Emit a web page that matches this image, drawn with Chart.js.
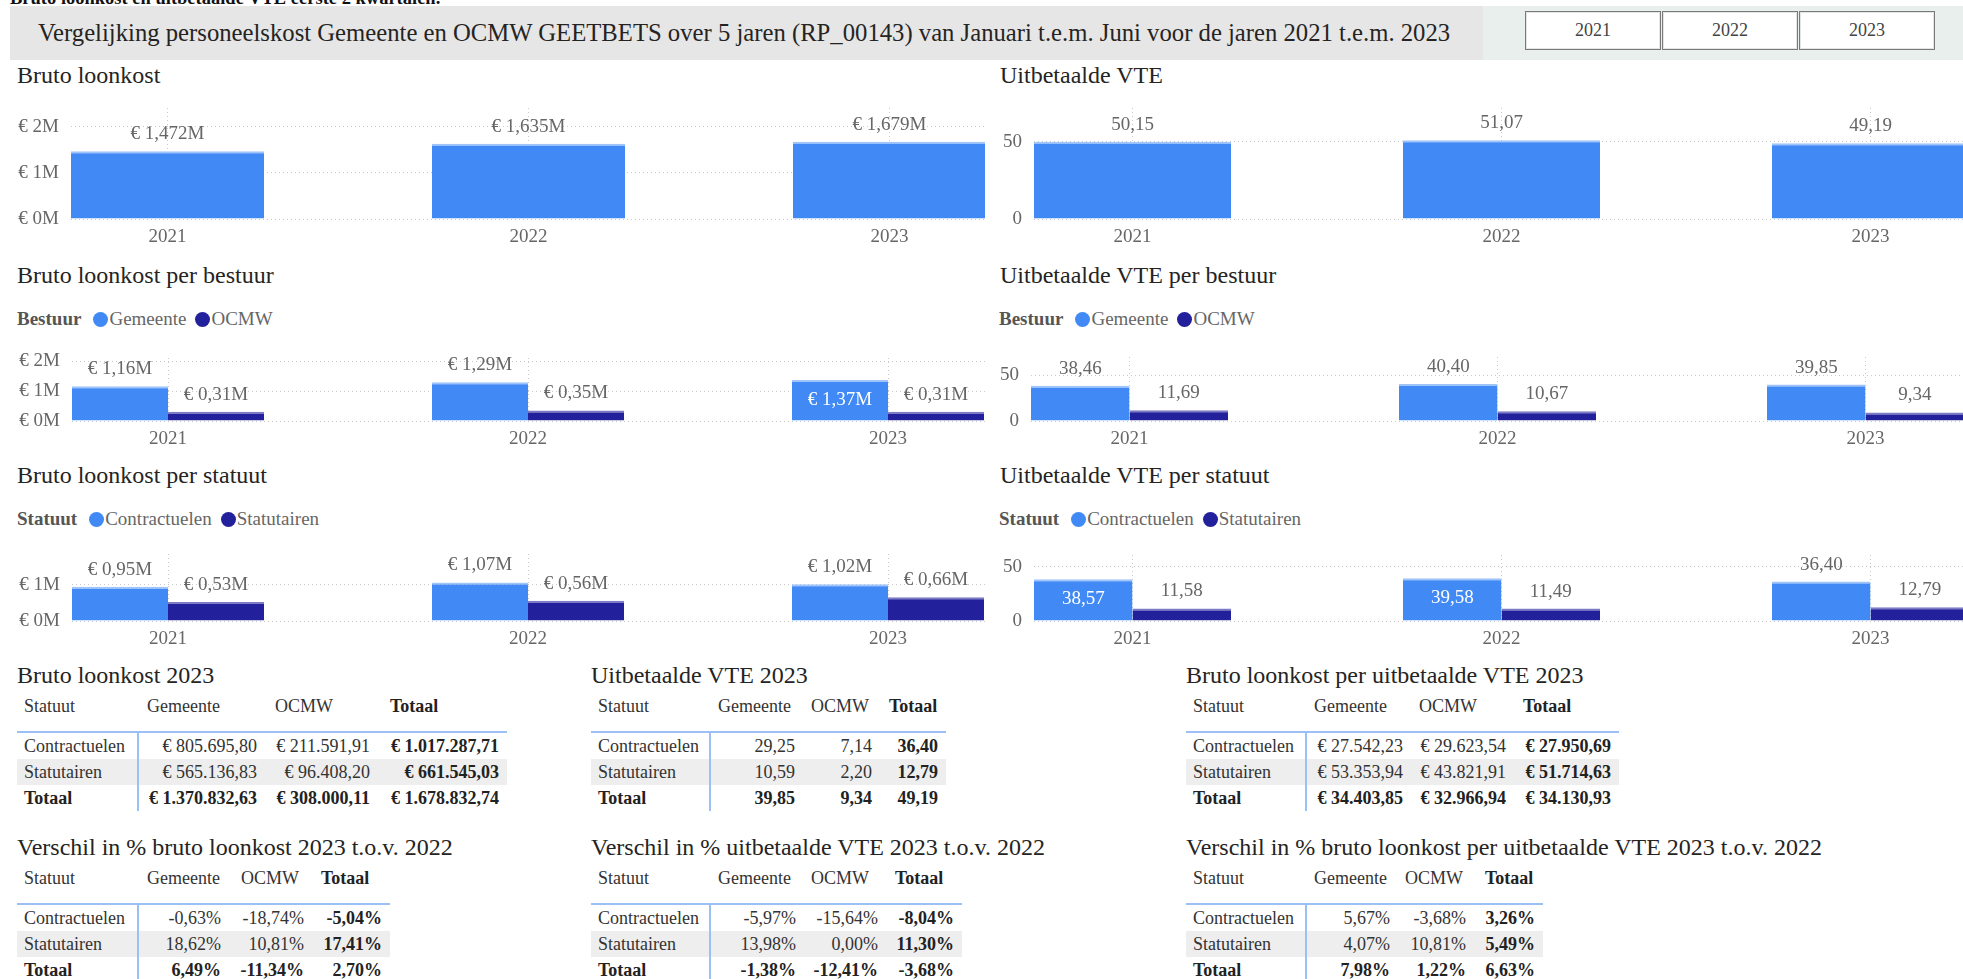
<!DOCTYPE html>
<html>
<head>
<meta charset="utf-8">
<script src="https://cdn.jsdelivr.net/npm/chart.js@4.4.0/dist/chart.umd.min.js"></script>
<style>
  body { margin: 0; width: 1963px; height: 979px; overflow: hidden; background: #fff; position: relative;
         font-family: 'Liberation Serif', 'Times New Roman', serif; color: #333; }
  .abs { position: absolute; font-family: 'Liberation Serif', 'Times New Roman', serif; }
  .page-title { left: 10px; top: -11px; font-size: 18.5px; line-height: 18.5px; font-weight: bold; color: #111; white-space: nowrap; }
  .header { left: 10px; top: 6px; width: 1473px; height: 54px; background: #e6e6e6; display: flex; align-items: center; }
  .header span { margin-left: 28px; font-size: 24.7px; color: #252423; white-space: nowrap; }
  .slicer { left: 1483px; top: 6px; width: 480px; height: 54px; background: #e9efed; }
  .slicer div { position: absolute; top: 5px; height: 37px; width: 134px; background: #fff; border: 1px solid #7a7a7a;
                box-shadow: inset 0 0 0 1px #e4e4e4; font-size: 18px; color: #444; display: flex; align-items: center; justify-content: center; }
  .vtitle { font-size: 24px; color: #252423; white-space: nowrap; }
  .legend { font-size: 19px; color: #666; display: flex; align-items: center; white-space: nowrap; }
  .legend b { color: #555; margin-right: 12px; font-family: inherit; }
  .legend span { font-family: inherit; }
  .legend i { display: inline-block; width: 15px; height: 15px; border-radius: 50%; margin-right: 1px; }
  .legend i + span { margin-right: 9px; }
  .chart { position: absolute; overflow: hidden; }
  table { position: absolute; border-collapse: collapse; table-layout: fixed; font-size: 18px; color: #333;
          font-family: 'Liberation Serif', 'Times New Roman', serif; }
  th { font-weight: normal; text-align: left; height: 49px; vertical-align: middle; white-space: nowrap; padding: 0;
       border-bottom: 2px solid #9cc0f6; }
  td { text-align: right; height: 26px; padding: 0; white-space: nowrap; }
  td:first-child, th:first-child { text-align: left; }
  tr.alt td { background: #eeeeee; }
  tr.tot td, th.tot, td.tot { font-weight: bold; color: #222; }
  td.first { border-right: 2px solid #9cc0f6; }
</style>
</head>
<body>
<div class="abs page-title">Bruto loonkost en uitbetaalde VTE eerste 2 kwartalen.</div>
<div class="abs header"><span>Vergelijking personeelskost Gemeente en OCMW GEETBETS over 5 jaren (RP_00143) van Januari t.e.m. Juni voor de jaren 2021 t.e.m. 2023</span></div>
<div class="abs slicer" id="slicer"></div>

<script>
// ---- gegevens ----
const years = ['2021', '2022', '2023'];

// bruto loonkost in miljoen euro, uitbetaalde VTE als aantal
const loonkost = [1.472, 1.635, 1.679];
const vte = [50.15, 51.07, 49.19];

const loonkostGemeente = [1.16, 1.29, 1.37];
const loonkostOcmw = [0.31, 0.35, 0.31];
const vteGemeente = [38.46, 40.40, 39.85];
const vteOcmw = [11.69, 10.67, 9.34];

const loonkostContract = [0.95, 1.07, 1.02];
const loonkostStatutair = [0.53, 0.56, 0.66];
const vteContract = [38.57, 39.58, 36.40];
const vteStatutair = [11.58, 11.49, 12.79];

// tabellen 2023 (rijen: Contractuelen, Statutairen, Totaal)
const statuten = ['Contractuelen', 'Statutairen', 'Totaal'];
const besturen = ['Gemeente', 'OCMW', 'Totaal'];
const loonkost2023 = [[805695.80, 211591.91, 1017287.71], [565136.83, 96408.20, 661545.03], [1370832.63, 308000.11, 1678832.74]];
const vte2023 = [[29.25, 7.14, 36.40], [10.59, 2.20, 12.79], [39.85, 9.34, 49.19]];
const loonkostPerVte2023 = [[27542.23, 29623.54, 27950.69], [53353.94, 43821.91, 51714.63], [34403.85, 32966.94, 34130.93]];
const verschilLoonkost = [[-0.63, -18.74, -5.04], [18.62, 10.81, 17.41], [6.49, -11.34, 2.70]];
const verschilVte = [[-5.97, -15.64, -8.04], [13.98, 0.00, 11.30], [-1.38, -12.41, -3.68]];
const verschilPerVte = [[5.67, -3.68, 3.26], [4.07, 10.81, 5.49], [7.98, 1.22, 6.63]];

const LIGHT = '#418af6';
const DARK = '#23209b';
// lichte rand bovenaan elke staaf
const EDGE = { [LIGHT]: '#9fc4fa', [DARK]: '#7d7ac6' };
const FONT = "'Liberation Serif', 'Times New Roman', serif";

// ---- opmaak ----
function nl(v, dec) {
  let [int, frac] = Math.abs(v).toFixed(dec).split('.');
  int = int.replace(/\B(?=(\d{3})+(?!\d))/g, '.');
  return (v < 0 ? '-' : '') + int + (frac ? ',' + frac : '');
}
const euro = v => '€ ' + nl(v, 2);
const pct = v => nl(v, 2) + '%';
const mio = dec => v => '€ ' + nl(v, dec) + 'M';

// ---- slicer knoppen ----
const slicer = document.getElementById('slicer');
years.forEach((y, i) => {
  const b = document.createElement('div');
  b.style.left = (42 + i * 137) + 'px';
  b.textContent = y;
  slicer.appendChild(b);
});

function addText(cls, text, left, top) {
  const d = document.createElement('div');
  d.className = 'abs ' + cls;
  d.style.left = left + 'px';
  d.style.top = top + 'px';
  d.textContent = text;
  document.body.appendChild(d);
}

function addLegend(title, names, left, top) {
  const d = document.createElement('div');
  d.className = 'abs legend';
  d.style.left = left + 'px';
  d.style.top = top + 'px';
  d.innerHTML = `<b>${title}</b><i style="background:${LIGHT}"></i><span>${names[0]}</span><i style="background:${DARK}"></i><span>${names[1]}</span>`;
  document.body.appendChild(d);
}

// labels boven (of in) de staven
function labelPlugin(format, inside) {
  return {
    id: 'barLabels',
    afterDatasetsDraw(chart) {
      const ctx = chart.ctx;
      ctx.save();
      ctx.font = `19px ${FONT}`;
      ctx.textAlign = 'center';
      ctx.textBaseline = 'middle';
      chart.data.datasets.forEach((ds, di) => {
        chart.getDatasetMeta(di).data.forEach((bar, i) => {
          const inBar = inside.some(([d, j]) => d === di && j === i);
          ctx.fillStyle = inBar ? '#fff' : '#666';
          ctx.fillText(format(ds.data[i].y), bar.x, inBar ? bar.y + 20 : bar.y - 17);
        });
      });
      ctx.restore();
    }
  };
}

function barChart(o) {
  const padTop = 26, axisH = 32;
  const wrap = document.createElement('div');
  wrap.className = 'chart';
  const h = padTop + (o.baseline - o.plotTop) + axisH;
  wrap.style.cssText = `left:${o.left}px;top:${o.plotTop - padTop}px;width:${o.width}px;height:${h}px`;
  const canvas = document.createElement('canvas');
  const cw = o.width + 300;
  canvas.width = cw; canvas.height = h;
  canvas.style.width = cw + 'px'; canvas.style.height = h + 'px';
  wrap.appendChild(canvas);
  document.body.appendChild(wrap);

  const axisW = o.plotLeft - o.left;
  const xMin = -o.barW / 2 / o.spacing;
  const xMax = xMin + (cw - axisW) / o.spacing;
  const tickFont = { family: FONT, size: 19 };

  new Chart(canvas, {
    type: 'bar',
    data: {
      datasets: o.series.map(s => ({
        data: s.values.map((v, i) => ({ x: i, y: v })),
        backgroundColor: s.color,
        borderColor: EDGE[s.color],
        borderWidth: { top: 2, right: 0, bottom: 0, left: 0 },
        borderSkipped: 'bottom',
        categoryPercentage: o.barW / o.spacing,
        barPercentage: 1
      }))
    },
    options: {
      responsive: false,
      animation: false,
      devicePixelRatio: 1,
      layout: { padding: { top: padTop, left: 0, right: 0, bottom: 0 } },
      plugins: { legend: { display: false }, tooltip: { enabled: false } },
      scales: {
        x: {
          type: 'linear', min: xMin, max: xMax, offset: false,
          grid: { color: '#c9c9c9', drawTicks: false, offset: false },
          border: { display: false, dash: [1, 3] },
          ticks: { stepSize: 1, includeBounds: false, autoSkip: false, maxRotation: 0, padding: 7,
                   color: '#666', font: tickFont, callback: v => years[v] ?? '' },
          afterFit: s => { s.height = axisH; }
        },
        y: {
          min: 0, max: o.yMax,
          grid: { color: '#c9c9c9', drawTicks: false },
          border: { display: false, dash: [1, 3] },
          ticks: { stepSize: o.yStep, includeBounds: false, padding: 12, color: '#666', font: tickFont, callback: o.tick },
          afterFit: s => { s.width = axisW; }
        }
      }
    },
    plugins: [labelPlugin(o.label, o.inside || [])]
  });
}

// ---- linker kolom: bruto loonkost ----
addText('vtitle', 'Bruto loonkost', 17, 62);
barChart({ left: 0, width: 985, plotLeft: 71, plotTop: 108, baseline: 219, spacing: 361, barW: 193,
  yMax: 2.41, yStep: 1, tick: v => '€ ' + v + 'M', label: mio(3),
  series: [{ values: loonkost, color: LIGHT }] });

addText('vtitle', 'Bruto loonkost per bestuur', 17, 262);
addLegend('Bestuur', ['Gemeente', 'OCMW'], 17, 308);
barChart({ left: 0, width: 985, plotLeft: 72, plotTop: 358, baseline: 421, spacing: 360, barW: 192,
  yMax: 2.1, yStep: 1, tick: v => '€ ' + v + 'M', label: mio(2), inside: [[0, 2]],
  series: [{ values: loonkostGemeente, color: LIGHT }, { values: loonkostOcmw, color: DARK }] });

addText('vtitle', 'Bruto loonkost per statuut', 17, 462);
addLegend('Statuut', ['Contractuelen', 'Statutairen'], 17, 508);
barChart({ left: 0, width: 985, plotLeft: 72, plotTop: 554, baseline: 621, spacing: 360, barW: 192,
  yMax: 1.86, yStep: 1, tick: v => '€ ' + v + 'M', label: mio(2),
  series: [{ values: loonkostContract, color: LIGHT }, { values: loonkostStatutair, color: DARK }] });

// ---- rechter kolom: uitbetaalde VTE ----
addText('vtitle', 'Uitbetaalde VTE', 1000, 62);
barChart({ left: 985, width: 978, plotLeft: 1034, plotTop: 108, baseline: 219, spacing: 369, barW: 197,
  yMax: 72, yStep: 50, tick: v => String(v), label: v => nl(v, 2),
  series: [{ values: vte, color: LIGHT }] });

addText('vtitle', 'Uitbetaalde VTE per bestuur', 1000, 262);
addLegend('Bestuur', ['Gemeente', 'OCMW'], 999, 308);
barChart({ left: 985, width: 978, plotLeft: 1031, plotTop: 357, baseline: 421, spacing: 368, barW: 197,
  yMax: 70, yStep: 50, tick: v => String(v), label: v => nl(v, 2),
  series: [{ values: vteGemeente, color: LIGHT }, { values: vteOcmw, color: DARK }] });

addText('vtitle', 'Uitbetaalde VTE per statuut', 1000, 462);
addLegend('Statuut', ['Contractuelen', 'Statutairen'], 999, 508);
barChart({ left: 985, width: 978, plotLeft: 1034, plotTop: 555, baseline: 621, spacing: 369, barW: 197,
  yMax: 61, yStep: 50, tick: v => String(v), label: v => nl(v, 2), inside: [[0, 0], [0, 1]],
  series: [{ values: vteContract, color: LIGHT }, { values: vteStatutair, color: DARK }] });

// ---- tabellen ----
// edges: kolomgrenzen in px, eerste kolom links uitgelijnd, cijfers rechts
function addTable(title, values, fmt, edges, top, headPad) {
  const left = edges[0];
  addText('vtitle', title, left, top);
  const t = document.createElement('table');
  t.style.left = left + 'px';
  t.style.top = (top + 20) + 'px';
  t.style.width = (edges[4] - left) + 'px';
  let html = '<colgroup>' + edges.slice(1).map((e, i) => `<col style="width:${e - edges[i]}px">`).join('') + '</colgroup>';
  html += `<tr><th style="padding-left:7px">Statuut</th>` +
    besturen.map((b, i) => `<th class="${i === 2 ? 'tot' : ''}" style="padding-left:${headPad[i]}px">${b}</th>`).join('') + '</tr>';
  statuten.forEach((s, r) => {
    const cls = r === 1 ? 'alt' : r === 2 ? 'tot' : '';
    html += `<tr class="${cls}"><td class="first" style="padding-left:7px">${s}</td>` +
      values[r].map((v, c) => `<td class="${c === 2 ? 'tot' : ''}" style="padding-right:8px">${fmt(v)}</td>`).join('') + '</tr>';
  });
  t.innerHTML = html;
  document.body.appendChild(t);
}

addTable('Bruto loonkost 2023', loonkost2023, euro, [17, 138, 265, 378, 507], 662, [9, 10, 12]);
addTable('Uitbetaalde VTE 2023', vte2023, v => nl(v, 2), [591, 710, 803, 880, 946], 662, [8, 8, 9]);
addTable('Bruto loonkost per uitbetaalde VTE 2023', loonkostPerVte2023, euro, [1186, 1306, 1411, 1514, 1619], 662, [8, 8, 9]);
addTable('Verschil in % bruto loonkost 2023 t.o.v. 2022', verschilLoonkost, pct, [17, 138, 229, 312, 390], 834, [9, 12, 9]);
addTable('Verschil in % uitbetaalde VTE 2023 t.o.v. 2022', verschilVte, pct, [591, 710, 804, 886, 962], 834, [8, 7, 9]);
addTable('Verschil in % bruto loonkost per uitbetaalde VTE 2023 t.o.v. 2022', verschilPerVte, pct, [1186, 1306, 1398, 1474, 1543], 834, [8, 7, 11]);
</script>
</body>
</html>
